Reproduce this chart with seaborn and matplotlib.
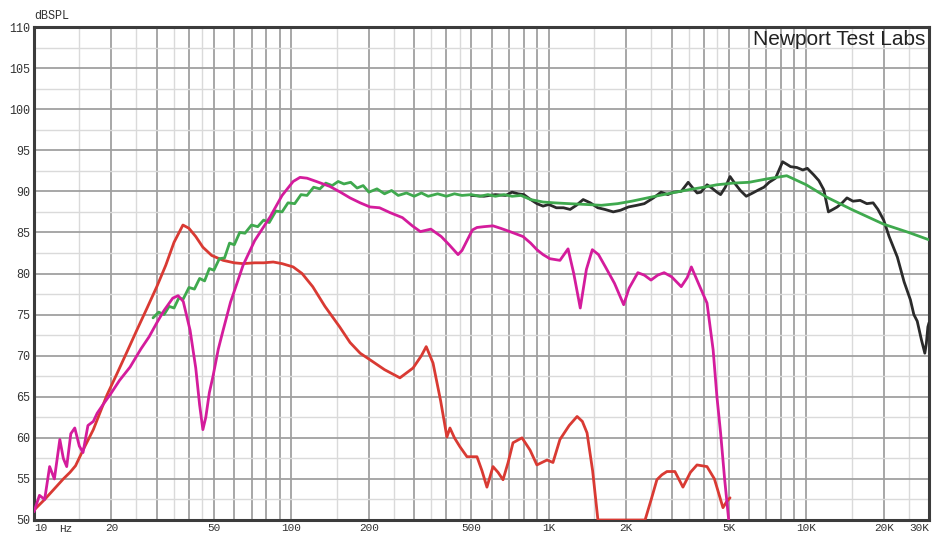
import matplotlib
matplotlib.use("Agg")
import matplotlib.pyplot as plt
import numpy as np
import pandas as pd
import seaborn as sns

# Frequency response curves (Hz, dB SPL)
red_f = [10, 11, 12, 13, 13.8, 14.5, 15.5, 17, 19.2, 21, 23, 25, 27.5, 30, 32.5, 35, 37.9, 40, 42.5,
         45.3, 49, 54.3, 60, 65, 72, 78, 85, 92, 101.6, 110, 121, 135, 154, 169, 185, 202, 230, 264,
         297, 320, 334, 355, 380, 402, 413, 430, 452, 481, 526, 550, 575, 607, 635, 664, 695, 726, 787,
         846, 899, 984, 1038, 1105, 1200, 1288, 1350, 1408, 1480, 1552, 1600, 2000, 2366, 2500, 2630,
         2750, 2877, 3090, 3320, 3550, 3765, 4118, 4400, 4750, 4900, 5060]
red_db = [51.2, 52.5, 53.8, 55.0, 55.8, 56.6, 58.5, 61.0, 65.2, 67.8, 70.5, 73.0, 75.8, 78.4, 81.0, 83.8,
          85.9, 85.5, 84.5, 83.2, 82.2, 81.6, 81.3, 81.2, 81.3, 81.3, 81.4, 81.2, 80.8, 80.0, 78.4, 76.0,
          73.5, 71.6, 70.3, 69.5, 68.3, 67.3, 68.5, 70.0, 71.1, 69.1, 64.5, 60.1, 61.2, 60.0, 58.9, 57.7,
          57.7, 56.0, 54.0, 56.5, 55.8, 54.9, 57.0, 59.4, 60.0, 58.5, 56.7, 57.3, 57.0, 59.8, 61.5, 62.6,
          62.0, 60.6, 56.0, 50.0, 50.0, 50.0, 50.0, 52.5, 54.9, 55.5, 55.9, 55.9, 54.0, 55.8, 56.7, 56.5,
          55.0, 51.5, 52.2, 52.7]

mag_f = [10, 10.5, 11, 11.5, 12, 12.6, 13, 13.4, 13.9, 14.4, 15, 15.5, 16.2, 17, 17.6, 18.5, 20, 21.5,
         23.6, 26, 28, 30, 32, 34.6, 36.3, 38, 40.4, 42.5, 44, 45.3, 46.5, 48, 49.6, 52, 54.3, 58, 64.9,
         72, 82.7, 92, 101.6, 108, 115, 125, 141, 155, 169, 185, 202, 220, 242, 270, 295, 317, 348, 382,
         410, 444, 460, 481, 505, 526, 560, 607, 650, 706, 794, 850, 899, 950, 1010, 1105, 1188, 1250,
         1325, 1400, 1476, 1560, 1660, 1800, 1954, 2050, 2218, 2350, 2495, 2650, 2806, 3000, 3270, 3450,
         3580, 3850, 4118, 4350, 4500, 4650, 4820, 5000]
mag_db = [51.0, 53.0, 52.5, 56.5, 55.0, 59.8, 57.5, 56.5, 60.5, 61.2, 59.0, 58.2, 61.5, 62.0, 63.0, 64.0,
          65.5, 67.0, 68.6, 70.8, 72.3, 74.0, 75.5, 77.0, 77.3, 76.6, 73.1, 68.5, 64.0, 61.0, 62.5, 65.5,
          67.5, 70.8, 73.1, 76.5, 81.0, 84.0, 86.9, 89.5, 91.2, 91.7, 91.6, 91.2, 90.6, 89.9, 89.2, 88.6,
          88.1, 88.0, 87.4, 86.8, 85.8, 85.1, 85.4, 84.5, 83.5, 82.3, 82.8, 84.0, 85.3, 85.6, 85.7, 85.8,
          85.5, 85.1, 84.5, 83.7, 82.9, 82.3, 81.8, 81.6, 83.0, 80.0, 75.8, 80.5, 82.9, 82.3, 80.8, 78.8,
          76.2, 78.2, 80.1, 79.8, 79.2, 79.8, 80.1, 79.6, 78.4, 79.5, 80.8, 78.5, 76.4, 70.7, 65.0, 60.6,
          55.0, 50.0]

green_f = [29, 30.5, 32, 33.5, 35, 36.5, 38, 40, 42, 44, 46, 48, 50, 52.5, 55, 57.5, 60, 63, 66, 70, 74,
           78, 82, 87, 92, 97, 103, 109, 115, 122, 129, 136, 144, 152, 160, 170, 180, 190, 200, 215, 230,
           245, 260, 280, 300, 320, 340, 370, 400, 430, 460, 500, 540, 580, 620, 670, 720, 780, 850, 950,
           1050, 1200, 1400, 1600, 1850, 2100, 2500, 3000, 3500, 4000, 4500, 5200, 6000, 7000, 8400,
           10000, 12000, 15000, 20000, 25000, 30000]
green_db = [74.6, 75.3, 75.0, 76.0, 75.8, 77.0, 76.9, 78.3, 78.1, 79.4, 79.1, 80.6, 80.4, 81.8, 81.9, 83.7,
            83.5, 85.0, 84.9, 85.9, 85.7, 86.5, 86.2, 87.6, 87.5, 88.6, 88.5, 89.6, 89.5, 90.5, 90.3, 91.0,
            90.7, 91.2, 90.9, 91.1, 90.4, 90.7, 89.9, 90.3, 89.7, 90.1, 89.5, 89.8, 89.4, 89.8, 89.4, 89.7,
            89.4, 89.7, 89.5, 89.6, 89.4, 89.6, 89.4, 89.6, 89.4, 89.5, 89.0, 88.7, 88.6, 88.5, 88.4, 88.3,
            88.5, 88.8, 89.3, 89.8, 90.2, 90.5, 90.8, 91.0, 91.1, 91.5, 91.9, 90.8, 89.3, 87.8, 86.0, 85.0,
            84.1]

black_f = [500, 560, 620, 680, 720, 760, 800, 850, 900, 950, 1000, 1070, 1140, 1210, 1280, 1360, 1450,
           1550, 1650, 1780, 1900, 2040, 2200, 2350, 2550, 2730, 2900, 3050, 3270, 3480, 3650, 3770, 3900,
           4120, 4300, 4500, 4650, 4850, 5060, 5300, 5550, 5850, 6200, 6550, 6850, 7180, 7600, 8100, 8400,
           8700, 9200, 9700, 10100, 10700, 11200, 11700, 12200, 12700, 13200, 13800, 14400, 15200, 16200,
           17200, 18200, 19000, 20000, 21000, 22600, 24000, 25400, 26200, 27000, 28000, 28900, 29300,
           29700, 30000]
black_db = [89.5, 89.4, 89.6, 89.5, 89.9, 89.7, 89.6, 89.0, 88.5, 88.2, 88.4, 88.0, 88.0, 87.8, 88.3, 89.0,
            88.6, 88.0, 87.8, 87.5, 87.7, 88.1, 88.3, 88.5, 89.2, 89.9, 89.6, 89.9, 90.0, 91.1, 90.3, 89.8,
            89.9, 90.8, 90.4, 89.9, 89.6, 90.5, 91.8, 90.9, 90.1, 89.4, 89.8, 90.2, 90.5, 91.1, 91.6, 93.6,
            93.3, 93.0, 92.9, 92.6, 92.8, 92.0, 91.3, 90.2, 87.5, 87.8, 88.1, 88.6, 89.2, 88.8, 88.9, 88.5,
            88.6, 87.8, 86.5, 84.5, 82.0, 79.0, 76.8, 75.0, 74.2, 72.0, 70.3, 71.5, 73.5, 74.0]

ytick_vals = list(range(50, 111, 5))
xtick_vals = [10, 20, 50, 100, 200, 500, 1000, 2000, 5000, 10000, 20000, 30000]
xtick_labels = ["10", "20", "50", "100", "200", "500", "1K", "2K", "5K", "10K", "20K", "30K"]

series = [
    ("black", black_f, black_db, "#2b2b2b"),
    ("red", red_f, red_db, "#d93a33"),
    ("green", green_f, green_db, "#3fa94e"),
    ("magenta", mag_f, mag_db, "#d41c9c"),
]

sns.set_style("white")
plt.rcParams["font.family"] = ["Liberation Mono", "DejaVu Sans Mono"]

fig = plt.figure(figsize=(9.46, 5.34), dpi=100)
ax = fig.add_axes([34 / 946, 1 - 520 / 534, 895 / 946, 493 / 534])
ax.set_xscale("log")
ax.set_xlim(10, 30000)
ax.set_ylim(50, 110)

# grid: dark at 1..9 per decade and every 5 dB, light in between
for dec in [10, 100, 1000, 10000]:
    for m in range(1, 10):
        v = dec * m
        if 10 < v < 30000:
            ax.axvline(v, color="#a0a0a0", lw=1.3, zorder=0)
    for m in [1.5, 2.5, 3.5, 4.5]:
        v = dec * m
        if v < 30000:
            ax.axvline(v, color="#dadada", lw=1.0, zorder=0)
for y in ytick_vals[1:-1]:
    ax.axhline(y, color="#a0a0a0", lw=1.3, zorder=0)
for y in np.arange(52.5, 110, 5):
    ax.axhline(y, color="#dadada", lw=1.0, zorder=0)

for name, f, db, col in series:
    df = pd.DataFrame({"freq": f, "spl": db})
    sns.lineplot(data=df, x="freq", y="spl", ax=ax, color=col, lw=2.0,
                 estimator=None, sort=False, zorder=3)

ax.set_xlabel("")
ax.set_ylabel("")
ax.set_yticks(ytick_vals)
ax.set_yticklabels([str(v) for v in ytick_vals])
ax.set_xticks(xtick_vals)
ax.set_xticklabels(xtick_labels)
ax.xaxis.set_minor_locator(matplotlib.ticker.NullLocator())
ax.tick_params(axis="both", length=0, labelsize=8.5, labelcolor="#333333")
ax.tick_params(axis="x", pad=2.5, labelsize=8)
ax.tick_params(axis="y", pad=3)
ax.get_xticklabels()[0].set_horizontalalignment("left")
ax.get_xticklabels()[-1].set_horizontalalignment("right")

for sp in ax.spines.values():
    sp.set_visible(True)
    sp.set_color("#3c3c3c")
    sp.set_linewidth(2.2)

ax.text(13.3, -0.008, "Hz", transform=ax.get_xaxis_transform(), ha="center", va="top",
        fontsize=8, color="#333333")
ax.text(0.0, 1.01, "dBSPL", transform=ax.transAxes, ha="left", va="bottom",
        fontsize=8.5, color="#333333")
ax.text(0.996, 0.993, "Newport Test Labs", transform=ax.transAxes, ha="right", va="top",
        fontsize=15, color="#222222", family=["Liberation Sans", "DejaVu Sans"], zorder=5)

fig.savefig("out.png", dpi=100)
